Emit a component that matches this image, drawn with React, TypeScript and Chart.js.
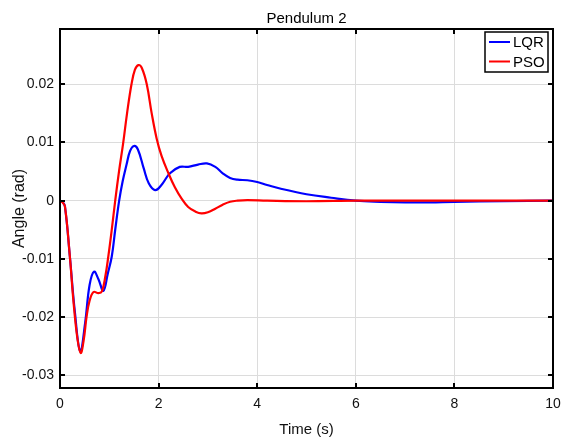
import React, { useEffect, useRef } from "react";
import { Chart, registerables } from "chart.js";

Chart.register(...registerables);

const lqrTime = [0, 0.05, 0.1, 0.2, 0.3, 0.41, 0.51, 0.6, 0.69, 0.78, 0.88, 0.97, 1.05, 1.12, 1.2, 1.27, 1.35, 1.42, 1.5, 1.58, 1.7, 1.8, 1.93, 2.05, 2.23, 2.43, 2.6, 2.8, 2.98, 3.15, 3.3, 3.45, 3.6, 3.8, 4.0, 4.2, 4.5, 5.0, 5.5, 6.0, 6.5, 7.0, 7.5, 8.0, 9.0, 10];
const lqrAngle = [0, -0.0002, -0.001, -0.0096, -0.019, -0.0259, -0.021, -0.0145, -0.0122, -0.0135, -0.0155, -0.0125, -0.0096, -0.005, 0, 0.0033, 0.0062, 0.0085, 0.0094, 0.0088, 0.0055, 0.003, 0.0018, 0.0026, 0.0047, 0.0058, 0.0058, 0.0062, 0.0064, 0.0058, 0.0047, 0.0039, 0.0036, 0.0035, 0.0032, 0.0027, 0.002, 0.0011, 0.0005, 0, -0.0002, -0.0003, -0.0003, -0.0002, -0.0001, 0];

const psoTime = [0, 0.05, 0.1, 0.2, 0.27, 0.35, 0.42, 0.48, 0.54, 0.6, 0.68, 0.78, 0.85, 0.92, 0.98, 1.05, 1.12, 1.2, 1.28, 1.36, 1.45, 1.52, 1.59, 1.66, 1.76, 1.86, 1.96, 2.06, 2.2, 2.33, 2.47, 2.6, 2.75, 2.87, 3.0, 3.15, 3.3, 3.45, 3.6, 3.8, 4.2, 5.0, 6.0, 7.0, 8.0, 10];
const psoAngle = [0, -0.0003, -0.001, -0.0096, -0.017, -0.0235, -0.0262, -0.024, -0.0199, -0.0172, -0.0157, -0.0159, -0.0156, -0.013, -0.0096, -0.005, 0, 0.0052, 0.0098, 0.015, 0.02, 0.0225, 0.0233, 0.0228, 0.02, 0.015, 0.0107, 0.0077, 0.0047, 0.0023, 0.0003, -0.0011, -0.0019, -0.0022, -0.002, -0.0014, -0.0007, -0.0002, 0, 0.0001, 0, -0.0001, 0, 0, 0, 0];

const xTickValues = [0, 2, 4, 6, 8, 10];
const yTickValues = [-0.03, -0.02, -0.01, 0, 0.01, 0.02];
const seriesNames = ["LQR", "PSO"];
const seriesColors = ["#0000ff", "#ff0000"];
const chartTitle = "Pendulum 2";
const xTitle = "Time (s)";
const yTitle = "Angle (rad)";

const FONT = '"Liberation Sans", Arial, sans-serif';

const framePlugin = {
  id: "framePlugin",
  afterDraw(chart: any) {
    const { ctx, chartArea } = chart;
    const { left, right, top, bottom } = chartArea;
    const xs = chart.scales.x;
    const ys = chart.scales.y;
    ctx.save();
    ctx.strokeStyle = "#000";
    ctx.lineWidth = 2;
    ctx.strokeRect(left, top, right - left, bottom - top);
    ctx.beginPath();
    xTickValues.forEach((v) => {
      const px = Math.round(xs.getPixelForValue(v));
      if (px <= left + 1 || px >= right - 1) return;
      ctx.moveTo(px, bottom);
      ctx.lineTo(px, bottom - 5);
      ctx.moveTo(px, top);
      ctx.lineTo(px, top + 5);
    });
    yTickValues.forEach((v) => {
      const py = Math.round(ys.getPixelForValue(v));
      ctx.moveTo(left, py);
      ctx.lineTo(left + 5, py);
      ctx.moveTo(right, py);
      ctx.lineTo(right - 5, py);
    });
    ctx.stroke();

    // title
    ctx.fillStyle = "#000";
    ctx.font = `15px ${FONT}`;
    ctx.textAlign = "center";
    ctx.textBaseline = "middle";
    ctx.fillText(chartTitle, (left + right) / 2, 19);

    // legend
    const lx0 = right - 68;
    const ly0 = top + 3;
    const lw = 63;
    const lh = 40;
    ctx.fillStyle = "#fff";
    ctx.fillRect(lx0, ly0, lw, lh);
    ctx.lineWidth = 1.5;
    ctx.strokeStyle = "#000";
    ctx.strokeRect(lx0, ly0, lw, lh);
    seriesNames.forEach((name, i) => {
      const yy = ly0 + 10 + i * 19.5;
      ctx.strokeStyle = seriesColors[i];
      ctx.lineWidth = 2;
      ctx.beginPath();
      ctx.moveTo(lx0 + 4, yy);
      ctx.lineTo(lx0 + 25, yy);
      ctx.stroke();
      ctx.fillStyle = "#000";
      ctx.textAlign = "left";
      ctx.textBaseline = "middle";
      ctx.font = `15px ${FONT}`;
      ctx.fillText(name, lx0 + 28, yy + 1);
    });
    ctx.restore();
  },
};

export default function App() {
  const canvasRef = useRef<HTMLCanvasElement | null>(null);

  useEffect(() => {
    const canvas = canvasRef.current;
    if (!canvas) return;
    Chart.defaults.font.family = FONT;
    const chart = new Chart(canvas, {
      type: "line",
      data: {
        datasets: [
          {
            label: seriesNames[0],
            data: lqrTime.map((t, i) => ({ x: t, y: lqrAngle[i] })),
            borderColor: seriesColors[0],
            borderWidth: 2.2,
            pointRadius: 0,
            fill: false,
            tension: 0.4,
            order: 2,
          },
          {
            label: seriesNames[1],
            data: psoTime.map((t, i) => ({ x: t, y: psoAngle[i] })),
            borderColor: seriesColors[1],
            borderWidth: 2.2,
            pointRadius: 0,
            fill: false,
            tension: 0.4,
            order: 1,
          },
        ],
      },
      options: {
        animation: false,
        responsive: false,
        maintainAspectRatio: false,
        layout: { padding: { left: 0, top: 29, right: 10, bottom: 0 } },
        plugins: {
          legend: { display: false },
          title: { display: false },
          tooltip: { enabled: false },
        },
        scales: {
          x: {
            type: "linear",
            min: 0,
            max: 10,
            afterBuildTicks: (axis: any) => {
              axis.ticks = xTickValues.map((v) => ({ value: v }));
            },
            afterFit: (axis: any) => {
              axis.height = 51;
              axis.paddingLeft = 0;
              axis.paddingRight = 0;
            },
            grid: { color: "#dcdcdc", lineWidth: 1, drawTicks: false },
            border: { display: false },
            ticks: {
              color: "#111",
              font: { size: 14 },
              padding: 8,
              maxRotation: 0,
              callback: (v: any) => String(v),
            },
            title: {
              display: true,
              text: xTitle,
              color: "#111",
              font: { size: 15 },
              padding: { top: -2, bottom: 0 },
            },
          },
          y: {
            type: "linear",
            min: -0.0322,
            max: 0.0295,
            afterBuildTicks: (axis: any) => {
              axis.ticks = yTickValues.map((v) => ({ value: v }));
            },
            afterFit: (axis: any) => {
              axis.width = 60;
              axis.paddingTop = 0;
              axis.paddingBottom = 0;
            },
            grid: { color: "#dcdcdc", lineWidth: 1, drawTicks: false },
            border: { display: false },
            ticks: {
              color: "#111",
              font: { size: 14 },
              padding: 6,
              callback: (v: any) => String(Number(Number(v).toFixed(3))),
            },
            title: {
              display: true,
              text: yTitle,
              color: "#111",
              font: { size: 16 },
              padding: { top: 10, bottom: 0 },
            },
          },
        },
      },
      plugins: [framePlugin],
    } as any);
    return () => chart.destroy();
  }, []);

  return (
    <div style={{ position: "fixed", left: 0, top: 0, width: 563, height: 439, background: "#fff" }}>
      <canvas ref={canvasRef} width={563} height={439} style={{ width: 563, height: 439 }} />
    </div>
  );
}
